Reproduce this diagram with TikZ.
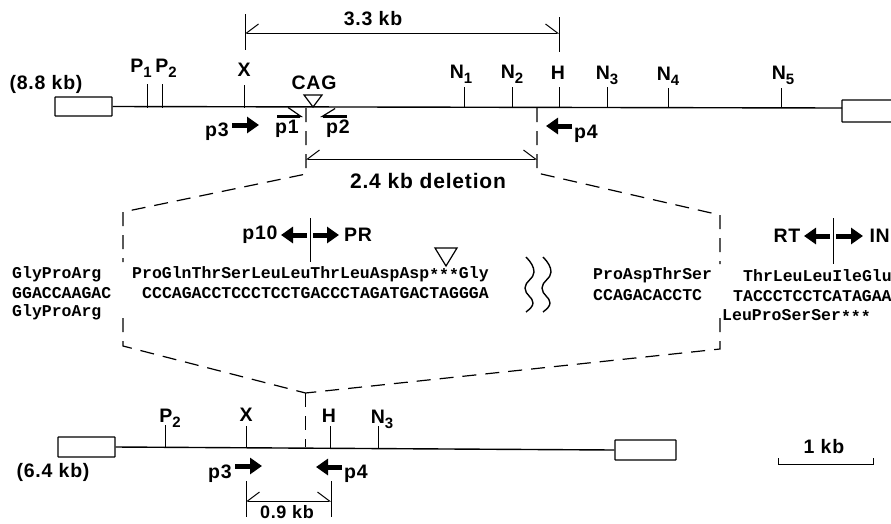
\documentclass[tikz,border=0pt]{standalone}
\usepackage{fontspec}
\setmainfont[LetterSpace=4]{Liberation Sans}
\setmonofont{Liberation Mono}
\usepackage{tikz}
\usetikzlibrary{arrows.meta,positioning,calc}
\newcommand{\sbn}[1]{\raisebox{-5pt}{\fontsize{15}{15}\selectfont #1}}
\newcommand{\stp}{\raisebox{-2.5pt}{***}}
\tikzset{
  dna/.style ={draw,line width=1.4pt},
  exon/.style={draw,line width=1.3pt,rounded corners=0.5pt},
  tick/.style={draw,line width=1pt},
  lab/.style ={font=\bfseries\fontsize{19.5}{19.5}\selectfont,inner sep=0pt},
  delab/.style={font=\bfseries\fontsize{21}{21}\selectfont,inner sep=0pt},
  seq/.style ={font=\ttfamily\bfseries\fontsize{16.5}{16.5}\selectfont,anchor=west,inner sep=0pt},
  blk/.style ={line width=5pt,-{Triangle[length=12pt,width=16pt]}},
  hrp/.style ={line width=2.6pt,-{Straight Barb[harpoon,line width=1.2pt,length=13pt,width=18pt]}},
  hrq/.style ={line width=2.6pt,-{Straight Barb[harpoon,swap,line width=1.2pt,length=13pt,width=16pt]}},
  dimn/.style={draw,line width=1pt,{Straight Barb[harpoon,swap,length=12pt,width=18pt]}-{Straight Barb[harpoon,length=12pt,width=18pt]}},
  dsh/.style ={draw,line width=1.2pt,dash pattern=on 14pt off 9pt},
  tri/.style ={draw,line width=1.2pt},
}
\begin{document}
\begin{tikzpicture}[x=1pt,y=-1pt]
\useasboundingbox (0,0) rectangle (891,523);
  \coordinate (tl) at (112,108);
  \coordinate (tr) at (842,108);
  \node[lab] (size8) at (46,84) {(8.8 kb)};
  \node[exon,minimum width=57pt,minimum height=19pt,inner sep=0pt] (box1) at (83.5,106.5) {};
  \draw[exon] (891,100) coordinate (e1) -- (842,100) -- (842,122) -- (891,122) coordinate (e2);
  \draw[dna] (box1.east) -- (tr);

  \node[lab] (lp1) at (141,68) {P\sbn{1}};
  \node[lab] (lp2) at (166,68) {P\sbn{2}};
  \node[lab] (lx) at (244,70) {X};
  \node[lab] (ln1) at (461,74) {N\sbn{1}};
  \node[lab] (ln2) at (512,74) {N\sbn{2}};
  \node[lab] (lh) at (558,73) {H};
  \node[lab] (ln3) at (607,75) {N\sbn{3}};
  \node[lab] (ln4) at (668,76) {N\sbn{4}};
  \node[lab] (ln5) at (783,75) {N\sbn{5}};
  \coordinate (tp1) at (147.5,84);
  \coordinate (tp2) at (162.5,84);
  \coordinate (tx) at (244.5,85);
  \coordinate (tn1) at (464.5,87);
  \coordinate (tn2) at (512.5,87);
  \coordinate (th) at (559,87);
  \coordinate (tn3) at (607,87);
  \coordinate (tn4) at (668.5,88);
  \coordinate (tn5) at (781.5,88);
  \draw[tick] (tp1) -- (tp1 |- tl);
  \draw[tick] (tp2) -- (tp2 |- tl);
  \draw[tick] (tx) -- (tx |- tl);
  \draw[tick] (tn1) -- (tn1 |- tl);
  \draw[tick] (tn2) -- (tn2 |- tl);
  \draw[tick] (th) -- (th |- tl);
  \draw[tick] (tn3) -- (tn3 |- tl);
  \draw[tick] (tn4) -- (tn4 |- tl);
  \draw[tick] (tn5) -- (tn5 |- tl);

  \coordinate (d1a) at (245,14);
  \coordinate (d1b) at (245,50);
  \coordinate (d1c) at (559,17);
  \coordinate (d1d) at (559,52);
  \coordinate (d1l) at (245,33);
  \coordinate (d1r) at (559,33);
  \draw[tick] (d1a) -- (d1b);
  \draw[tick] (d1c) -- (d1d);
  \draw[dimn] (d1l) -- (d1r);
  \node[lab] (l33) at (373,19) {3.3 kb};

  \node[lab] (cag) at (314,83) {CAG};
  \coordinate (ca) at (304,95);
  \coordinate (cb) at (322,95);
  \coordinate (cc) at (313,107);
  \draw[tri] (ca) -- (cb) -- (cc) -- cycle;

  \coordinate (p3a) at (232,125);
  \coordinate (p3b) at (259,125);
  \draw[blk] (p3a) -- (p3b);
  \node[lab] (lp3) at (217,132) {p3};
  \coordinate (p1a) at (277,116.5);
  \coordinate (p1b) at (303,116.5);
  \draw[hrp] (p1a) -- (p1b);
  \node[lab] (lpa) at (287,129) {p1};
  \coordinate (p2a) at (347,116.5);
  \coordinate (p2b) at (320,116.5);
  \draw[hrq] (p2a) -- (p2b);
  \node[lab] (lpb) at (338,129) {p2};
  \coordinate (p4a) at (572,126);
  \coordinate (p4b) at (546,126);
  \draw[blk] (p4a) -- (p4b);
  \node[lab] (lp4) at (586,134) {p4};

  \coordinate (d2l) at (306,159);
  \coordinate (d2r) at (537,159);
  \draw[dimn] (d2l) -- (d2r);
  \node[delab] (ldel) at (428,181) {2.4 kb deletion};

  \coordinate (ul0) at (306,108);
  \coordinate (ul1) at (306,174);
  \coordinate (ul2) at (123,212);
  \coordinate (ul3) at (123,262);
  \coordinate (ur0) at (537,108);
  \coordinate (ur1) at (537,173);
  \coordinate (ur2) at (720,215);
  \coordinate (ur3) at (720,264);
  \coordinate (ll1) at (123,318);
  \coordinate (ll2) at (123,346);
  \coordinate (lr1) at (720,318);
  \coordinate (lr2) at (720,349);
  \coordinate (vee) at (305.5,393);
  \coordinate (vb) at (305.5,447);
  \draw[dsh] (ul0) -- (ul1) -- (ul2) -- (ul3);
  \draw[dsh] (ur0) -- (ur1) -- (ur2) -- (ur3);
  \draw[dsh] (ll1) -- (ll2) -- (vee);
  \draw[dsh] (lr1) -- (lr2) -- (vee);
  \draw[dsh] (vee) -- (vb);

  \coordinate (v1a) at (310,218);
  \coordinate (v1b) at (310,262);
  \draw[tick] (v1a) -- (v1b);
  \coordinate (a10) at (307,235);
  \coordinate (a11) at (281,235);
  \coordinate (a12) at (313,235);
  \coordinate (a13) at (339,235);
  \draw[blk] (a10) -- (a11);
  \draw[blk] (a12) -- (a13);
  \node[lab] (lp10) at (260,235) {p10};
  \node[lab] (lpr) at (358,235) {PR};

  \coordinate (v2a) at (833,218);
  \coordinate (v2b) at (833,264);
  \draw[tick] (v2a) -- (v2b);
  \coordinate (a20) at (830,236);
  \coordinate (a21) at (804,236);
  \coordinate (a22) at (836,236);
  \coordinate (a23) at (863,236);
  \draw[blk] (a20) -- (a21);
  \draw[blk] (a22) -- (a23);
  \node[lab] (lrt) at (787,236) {RT};
  \node[lab,anchor=east] (lin) at (890,236) {IN};

  \coordinate (sa) at (435,248);
  \coordinate (sb) at (457,248);
  \coordinate (sc) at (446,266);
  \draw[tri] (sa) -- (sb) -- (sc) -- cycle;

  \node[seq] (s1) at (12,274) {GlyProArg};
  \node[seq] (s2) at (12,293.5) {GGACCAAGAC};
  \node[seq] (s3) at (12,312) {GlyProArg};
  \node[seq] (s4) at (132,274) {ProGlnThrSerLeuLeuThrLeuAspAsp\stp Gly};
  \node[seq] (s5) at (142,293.5) {CCCAGACCTCCCTCCTGACCCTAGATGACTAGGGA};
  \node[seq] (s6) at (593,275) {ProAspThrSer};
  \node[seq] (s7) at (593,295) {CCAGACACCTC};
  \node[seq] (s8) at (743,276) {ThrLeuLeuIleGlu};
  \node[seq] (s9) at (733,296) {TACCCTCCTCATAGAA};
  \node[seq] (s10) at (722,316) {LeuProSerSer\stp};

  \draw[line width=1.4pt] (526,257) coordinate (w1)
    .. controls (531,262) and (534,267) .. (534,272)
    .. controls (534,279) and (525,281) .. (525,288)
    .. controls (525,295) and (533,297) .. (533,303)
    .. controls (533,306) and (530,309) .. (526,312) coordinate (w2);
  \draw[line width=1.4pt] (543,257) coordinate (w3)
    .. controls (548,262) and (551,267) .. (551,272)
    .. controls (551,279) and (542,281) .. (542,288)
    .. controls (542,295) and (550,297) .. (550,303)
    .. controls (550,306) and (547,309) .. (543,312) coordinate (w4);

  \coordinate (bl) at (115,448);
  \coordinate (br) at (615,448);
  \node[exon,minimum width=57pt,minimum height=20pt,inner sep=0pt] (box3) at (86.5,447) {};
  \node[exon,minimum width=61pt,minimum height=20pt,inner sep=0pt] (box4) at (645.5,450) {};
  \draw[dna] (box3.east) -- (box4.west);
  \node[lab] (size6) at (53,472) {(6.4 kb)};

  \node[lab] (lbp2) at (170,418) {P\sbn{2}};
  \node[lab] (lbx) at (246,415) {X};
  \node[lab] (lbh) at (329,416) {H};
  \node[lab] (lbn3) at (382,419) {N\sbn{3}};
  \coordinate (bp2) at (165,425);
  \coordinate (bx) at (246,426);
  \coordinate (bh) at (330,426);
  \coordinate (bn3) at (378,426);
  \draw[tick] (bp2) -- (bp2 |- bl);
  \draw[tick] (bx) -- (bx |- bl);
  \draw[tick] (bh) -- (bh |- bl);
  \draw[tick] (bn3) -- (bn3 |- bl);

  \coordinate (b3a) at (235,466);
  \coordinate (b3b) at (262,466);
  \draw[blk] (b3a) -- (b3b);
  \node[lab] (lb3) at (220,474) {p3};
  \coordinate (b4a) at (342,467);
  \coordinate (b4b) at (316,467);
  \draw[blk] (b4a) -- (b4b);
  \node[lab] (lb4) at (356,474) {p4};

  \coordinate (d3a) at (246,481);
  \coordinate (d3b) at (246,517);
  \coordinate (d3c) at (331,481);
  \coordinate (d3d) at (331,517);
  \coordinate (d3l) at (246,501);
  \coordinate (d3r) at (331,501);
  \draw[tick] (d3a) -- (d3b);
  \draw[tick] (d3c) -- (d3d);
  \draw[dimn] (d3l) -- (d3r);
  \node[lab,font=\bfseries\fontsize{18}{18}\selectfont] (l09) at (287,512) {0.9 kb};

  \coordinate (sc1) at (778,458);
  \coordinate (sc2) at (778,464);
  \coordinate (sc3) at (873,464);
  \coordinate (sc4) at (873,458);
  \draw[tick] (sc1) -- (sc2) -- (sc3) -- (sc4);
  \node[lab] (l1k) at (824,447) {1 kb};
\end{tikzpicture}
\end{document}
